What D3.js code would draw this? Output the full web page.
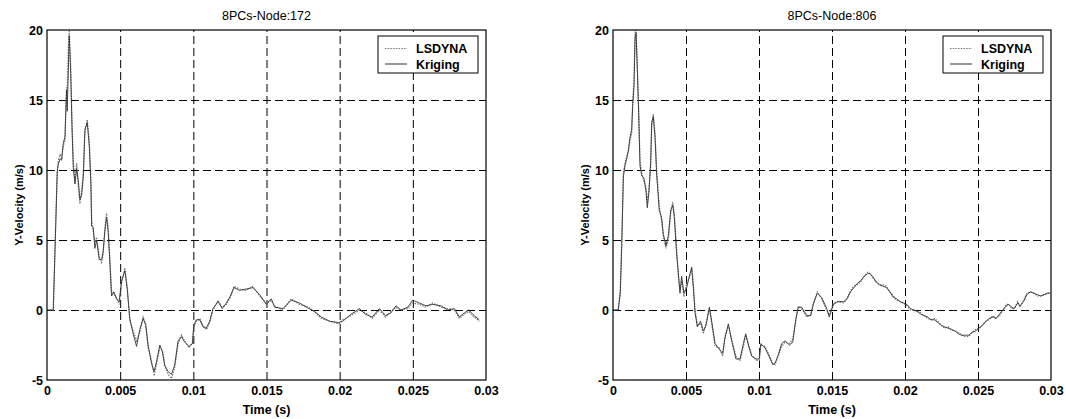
<!DOCTYPE html>
<html>
<head>
<meta charset="utf-8">
<script src="https://cdn.jsdelivr.net/npm/d3@7"></script>
<style>
  body { margin: 0; background: #fff; }
  svg text { font-family: "Liberation Sans", Arial, Helvetica, sans-serif; fill: #000; }
</style>
</head>
<body>
<div id="chart"></div>
<script>
// tick labels
var xTicks = [0, 0.005, 0.01, 0.015, 0.02, 0.025, 0.03];
var xTickLabels = ["0", "0.005", "0.01", "0.015", "0.02", "0.025", "0.03"];
var yTicks = [-5, 0, 5, 10, 15, 20];
var yTickLabels = ["-5", "0", "5", "10", "15", "20"];
var seriesNames = ["LSDYNA", "Kriging"];

// node 172 (time in s, velocity in m/s)
var time172 = [
  0, 0.00043, 0.00061, 0.00070, 0.00077, 0.00089, 0.00100, 0.00111, 0.00123, 0.00130,
  0.00134, 0.00138, 0.00145, 0.00152, 0.00162, 0.00171, 0.00180, 0.00191, 0.00203, 0.00214,
  0.00225, 0.00237, 0.00248, 0.00259, 0.00275, 0.00289, 0.00300, 0.00305, 0.00316, 0.00327,
  0.00339, 0.00357, 0.00373, 0.00384, 0.00396, 0.00407, 0.00418, 0.00430, 0.00441, 0.00457,
  0.00475, 0.00493, 0.00510, 0.00532, 0.00548, 0.00566, 0.00589, 0.00612, 0.00634, 0.00657,
  0.00675, 0.00691, 0.00714, 0.00732, 0.00748, 0.00771, 0.00789, 0.00805, 0.00828, 0.00851,
  0.00873, 0.00896, 0.00919, 0.00941, 0.00971, 0.00994, 0.01003, 0.01021, 0.01044, 0.01066,
  0.01089, 0.01112, 0.01134, 0.01169, 0.01198, 0.01226, 0.01253, 0.01278, 0.01316, 0.01362,
  0.01407, 0.01453, 0.01499, 0.01533, 0.01555, 0.01612, 0.01669, 0.01726, 0.01789, 0.01828,
  0.01874, 0.01931, 0.01994, 0.02021, 0.02078, 0.02135, 0.02176, 0.02222, 0.02272, 0.02313,
  0.02351, 0.02385, 0.02419, 0.02465, 0.02499, 0.02545, 0.02590, 0.02636, 0.02693, 0.02738,
  0.02784, 0.02818, 0.02852, 0.02881, 0.02920, 0.02954
];
var lsdyna172 = [
  0, 0, 6.9, 9.8, 10.7, 11.1, 10.9, 11.7, 12.1, 15.0,
  15.9, 15.5, 18.6, 20.0, 17.4, 13.3, 10.5, 9.3, 10.5, 8.8,
  7.6, 8.6, 9.8, 12.6, 13.6, 12.1, 9.3, 6.4, 5.6, 4.8,
  5.2, 3.8, 3.4, 4.0, 5.9, 6.9, 5.9, 3.6, 1.4, 1.1,
  0.9, 0.4, 1.9, 3.0, 1.7, -0.8, -1.5, -2.2, -1.6, -0.5,
  -1.0, -2.7, -3.6, -4.7, -3.9, -2.7, -2.9, -3.9, -4.6, -4.9,
  -4.1, -2.4, -1.8, -2.2, -2.7, -2.3, -1.2, -0.8, -0.6, -1.1,
  -1.4, -0.9, 0.0, 0.7, 0.2, 0.4, 0.9, 1.7, 1.5, 1.4,
  1.7, 1.0, 0.5, 0.7, 0.3, 0.0, 0.8, 0.4, 0.2, -0.1,
  -0.6, -0.8, -1.0, -0.7, -0.4, 0.0, -0.2, -0.6, 0.0, -0.5,
  -0.1, 0.2, 0.0, 0.1, 0.5, 0.4, 0.2, 0.5, 0.2, 0.1,
  0.0, -0.6, -0.3, -0.1, -0.5, -0.8
];
var kriging172 = [
  0, 0, 6.5, 9.9, 10.4, 10.8, 10.7, 11.9, 12.4, 14.6,
  15.7, 14.2, 16.8, 19.6, 16.9, 13.0, 10.1, 9.0, 10.1, 9.2,
  7.9, 8.2, 9.5, 12.9, 13.4, 11.7, 9.0, 6.0, 5.9, 4.4,
  5.0, 3.6, 3.6, 4.2, 5.7, 6.6, 5.6, 3.3, 1.0, 1.3,
  0.8, 0.6, 2.1, 2.8, 1.5, -0.6, -1.7, -2.6, -1.4, -0.6,
  -1.1, -2.5, -3.8, -4.4, -3.7, -2.5, -3.0, -4.0, -4.4, -4.6,
  -3.9, -2.2, -1.9, -2.3, -2.6, -2.4, -1.1, -0.7, -0.7, -1.2,
  -1.3, -0.8, 0.1, 0.6, 0.1, 0.5, 1.0, 1.6, 1.4, 1.5,
  1.6, 1.1, 0.4, 0.8, 0.2, 0.1, 0.7, 0.5, 0.1, -0.1,
  -0.5, -0.8, -0.9, -0.8, -0.3, 0.1, -0.3, -0.5, 0.1, -0.4,
  -0.2, 0.3, 0.0, 0.2, 0.7, 0.5, 0.3, 0.4, 0.3, 0.0,
  0.1, -0.5, -0.2, 0.0, -0.4, -0.7
];

// node 806
var time806 = [
  0, 0.00036, 0.00050, 0.00060, 0.00071, 0.00082, 0.00094, 0.00105, 0.00116, 0.00128,
  0.00135, 0.00144, 0.00151, 0.00158, 0.00167, 0.00176, 0.00185, 0.00197, 0.00212, 0.00226,
  0.00235, 0.00247, 0.00258, 0.00265, 0.00276, 0.00288, 0.00299, 0.00317, 0.00333, 0.00345,
  0.00363, 0.00379, 0.00395, 0.00409, 0.00420, 0.00436, 0.00447, 0.00459, 0.00470, 0.00486,
  0.00505, 0.00527, 0.00539, 0.00550, 0.00562, 0.00578, 0.00600, 0.00619, 0.00637, 0.00660,
  0.00676, 0.00699, 0.00728, 0.00751, 0.00767, 0.00790, 0.00813, 0.00842, 0.00870, 0.00893,
  0.00909, 0.00927, 0.00950, 0.00980, 0.01002, 0.01012, 0.01041, 0.01064, 0.01094, 0.01110,
  0.01132, 0.01155, 0.01178, 0.01208, 0.01231, 0.01253, 0.01269, 0.01292, 0.01327, 0.01354,
  0.01372, 0.01399, 0.01429, 0.01464, 0.01481, 0.01510, 0.01540, 0.01580, 0.01603, 0.01627,
  0.01650, 0.01673, 0.01697, 0.01720, 0.01744, 0.01760, 0.01779, 0.01803, 0.01826, 0.01849,
  0.01873, 0.01896, 0.01920, 0.01943, 0.01967, 0.01990, 0.02014, 0.02037, 0.02061, 0.02084,
  0.02108, 0.02131, 0.02155, 0.02178, 0.02202, 0.02225, 0.02249, 0.02272, 0.02295, 0.02319,
  0.02342, 0.02366, 0.02389, 0.02413, 0.02436, 0.02460, 0.02483, 0.02507, 0.02530, 0.02554,
  0.02577, 0.02601, 0.02624, 0.02647, 0.02671, 0.02694, 0.02711, 0.02730, 0.02748, 0.02772,
  0.02788, 0.02812, 0.02835, 0.02859, 0.02882, 0.02906, 0.02929, 0.02953, 0.02976, 0.02993
];
var lsdyna806 = [
  0, 0, 1.5, 5.0, 9.8, 10.5, 11.0, 11.3, 12.1, 12.6,
  15.0, 16.4, 19.8, 20.0, 17.4, 14.3, 10.7, 9.8, 9.2, 8.8,
  7.6, 8.8, 10.2, 13.1, 14.0, 12.6, 10.0, 7.4, 6.4, 5.2,
  4.4, 5.0, 6.9, 7.7, 6.9, 4.3, 2.5, 1.4, 2.1, 0.95,
  1.9, 2.4, 3.1, 1.9, 0.0, -1.1, -0.95, -1.7, -0.95, 0.1,
  -0.95, -2.6, -2.7, -3.3, -1.9, -1.1, -2.1, -3.3, -3.6, -2.6,
  -1.8, -2.4, -3.2, -3.6, -3.6, -2.5, -2.6, -3.1, -3.8, -3.9,
  -3.3, -2.6, -2.3, -2.4, -2.1, -0.7, 0.25, 0.1, -0.5, -0.35,
  0.5, 1.3, 0.8, 0.0, -0.35, 0.5, 0.6, 0.5, 0.8, 1.4,
  1.7, 1.8, 2.0, 2.4, 2.7, 2.6, 2.3, 2.0, 1.8, 1.8,
  1.7, 1.3, 1.0, 0.7, 0.6, 0.5, 0.3, 0.0, 0.0, -0.1,
  -0.2, -0.4, -0.6, -0.7, -0.6, -0.8, -1.1, -1.3, -1.2, -1.4,
  -1.5, -1.6, -1.8, -1.9, -1.9, -1.6, -1.4, -1.3, -1.1, -0.8,
  -0.7, -0.4, -0.6, -0.4, 0.0, 0.4, 0.4, 0.1, 0.1, 0.6,
  0.2, 0.7, 1.2, 1.3, 1.2, 1.0, 1.0, 1.1, 1.2, 1.2
];
var kriging806 = [
  0, 0, 1.2, 4.6, 9.5, 10.3, 10.8, 11.4, 12.3, 12.9,
  14.6, 16.0, 19.4, 19.8, 17.0, 14.0, 10.3, 9.6, 9.4, 8.5,
  7.3, 8.5, 10.6, 13.4, 13.8, 12.3, 9.7, 7.1, 6.6, 5.4,
  4.6, 5.3, 7.1, 7.5, 6.6, 4.0, 2.7, 1.2, 2.4, 1.2,
  1.6, 2.6, 3.0, 1.6, -0.2, -1.2, -0.8, -1.5, -1.1, 0.2,
  -0.8, -2.4, -2.8, -3.1, -2.0, -1.0, -2.2, -3.5, -3.5, -2.4,
  -1.7, -2.5, -3.3, -3.5, -3.5, -2.4, -2.7, -3.2, -3.9, -3.8,
  -3.2, -2.4, -2.2, -2.5, -2.3, -0.6, 0.2, 0.2, -0.4, -0.4,
  0.4, 1.2, 0.9, 0.1, -0.5, 0.4, 0.6, 0.6, 0.8, 1.3,
  1.6, 1.9, 2.1, 2.4, 2.6, 2.6, 2.4, 2.0, 1.8, 1.7,
  1.6, 1.3, 0.9, 0.8, 0.6, 0.5, 0.4, 0.1, 0.0, -0.1,
  -0.3, -0.4, -0.5, -0.7, -0.7, -0.9, -1.1, -1.2, -1.3, -1.4,
  -1.5, -1.7, -1.8, -1.8, -1.8, -1.6, -1.5, -1.3, -1.1, -0.8,
  -0.6, -0.5, -0.6, -0.3, 0.0, 0.3, 0.4, 0.2, 0.1, 0.5,
  0.3, 0.6, 1.1, 1.3, 1.2, 1.1, 1.0, 1.1, 1.2, 1.2
];

var width = 1066, height = 419;
var plotTop = 30, plotBottom = 380;

var svg = d3.select("#chart")
            .append("svg")
            .attr("width", width)
            .attr("height", height);

svg.append("rect")
   .attr("width", width)
   .attr("height", height)
   .attr("fill", "#fff");

var drawPanel = function(left, right, title, time, lsdyna, kriging) {
  var x = d3.scaleLinear().domain([0, 0.03]).range([left, right]);
  var y = d3.scaleLinear().domain([-5, 20]).range([plotBottom, plotTop]);
  var w = right - left, h = plotBottom - plotTop;
  var g = svg.append("g");

  // dashed grid
  g.append("g")
   .attr("transform", "translate(0," + plotBottom + ")")
   .call(d3.axisBottom(x).tickValues(xTicks.slice(1, -1)).tickSize(-h).tickFormat(""))
   .call(function(s) { s.select(".domain").remove(); })
   .selectAll("line")
   .attr("stroke", "#000")
   .attr("stroke-width", 1)
   .attr("stroke-dasharray", "8,4");

  g.append("g")
   .attr("transform", "translate(" + left + ",0)")
   .call(d3.axisLeft(y).tickValues(yTicks.slice(1, -1)).tickSize(-w).tickFormat(""))
   .call(function(s) { s.select(".domain").remove(); })
   .selectAll("line")
   .attr("stroke", "#000")
   .attr("stroke-width", 1)
   .attr("stroke-dasharray", "8,4");

  // curves
  var line = d3.line()
               .x(function(d) { return x(d[0]); })
               .y(function(d) { return y(d[1]); });

  g.append("path")
   .datum(time.map(function(t, i) { return [t, lsdyna[i]]; }))
   .attr("d", line)
   .attr("fill", "none")
   .attr("stroke", "#777")
   .attr("stroke-width", 1.2)
   .attr("stroke-dasharray", "1.5,1.2");

  g.append("path")
   .datum(time.map(function(t, i) { return [t, kriging[i]]; }))
   .attr("d", line)
   .attr("fill", "none")
   .attr("stroke", "#333")
   .attr("stroke-width", 0.9);

  // box
  g.append("rect")
   .attr("x", left).attr("y", plotTop)
   .attr("width", w).attr("height", h)
   .attr("fill", "none")
   .attr("stroke", "#000")
   .attr("stroke-width", 1.2);

  // tick labels
  var xa = g.append("g")
            .attr("transform", "translate(0," + plotBottom + ")")
            .call(d3.axisBottom(x).tickValues(xTicks).tickSize(0).tickPadding(6)
                    .tickFormat(function(d, i) { return xTickLabels[i]; }));
  xa.select(".domain").remove();
  xa.selectAll("text").style("font-size", "12.5px").style("font-weight", "bold");

  var ya = g.append("g")
            .attr("transform", "translate(" + left + ",0)")
            .call(d3.axisLeft(y).tickValues(yTicks).tickSize(0).tickPadding(4)
                    .tickFormat(function(d, i) { return yTickLabels[i]; }));
  ya.select(".domain").remove();
  ya.selectAll("text").style("font-size", "12.5px").style("font-weight", "bold");

  // titles
  g.append("text")
   .attr("x", (left + right) / 2).attr("y", 19.5)
   .attr("text-anchor", "middle")
   .style("font-size", "12.5px")
   .text(title);

  g.append("text")
   .attr("x", (left + right) / 2).attr("y", 414)
   .attr("text-anchor", "middle")
   .style("font-size", "12.5px")
   .style("font-weight", "bold")
   .text("Time (s)");

  g.append("text")
   .attr("transform", "translate(" + (left - 24) + "," + ((plotTop + plotBottom) / 2) + ") rotate(-90)")
   .attr("text-anchor", "middle")
   .style("font-size", "11px")
   .style("font-weight", "bold")
   .text("Y-Velocity (m/s)");

  // legend
  var lx = right - 108, ly = 36;
  var lg = g.append("g").attr("transform", "translate(" + lx + "," + ly + ")");
  lg.append("rect")
    .attr("width", 100).attr("height", 37)
    .attr("fill", "#fff")
    .attr("stroke", "#000")
    .attr("stroke-width", 1);

  var styles = [
    { stroke: "#777", dash: "1.5,1.2", width: 1.2 },
    { stroke: "#333", dash: null, width: 1 }
  ];
  seriesNames.forEach(function(name, i) {
    var yy = 12.5 + i * 15.5;
    lg.append("line")
      .attr("x1", 7).attr("x2", 29)
      .attr("y1", yy).attr("y2", yy)
      .attr("stroke", styles[i].stroke)
      .attr("stroke-width", styles[i].width)
      .attr("stroke-dasharray", styles[i].dash);
    lg.append("text")
      .attr("x", 38).attr("y", yy)
      .attr("dy", "0.36em")
      .style("font-size", "12.5px")
      .style("font-weight", "bold")
      .text(name);
  });
};

drawPanel(47, 486, "8PCs-Node:172", time172, lsdyna172, kriging172);
drawPanel(613, 1051, "8PCs-Node:806", time806, lsdyna806, kriging806);
</script>
</body>
</html>
